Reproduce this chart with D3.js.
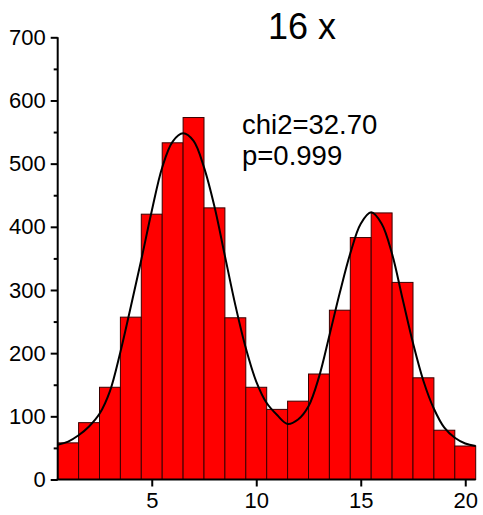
<!DOCTYPE html>
<html>
<head>
<meta charset="utf-8">
<script src="https://cdn.jsdelivr.net/npm/d3@7"></script>
<style>
  html, body { margin: 0; padding: 0; background: #fff; }
  svg { display: block; font-family: Arial, "Liberation Sans", sans-serif; }
</style>
</head>
<body>
<svg id="chart" width="483" height="515"></svg>
<script>
// ---- data ----
const binCenters = [1, 2, 3, 4, 5, 6, 7, 8, 9, 10, 11, 12, 13, 14, 15, 16, 17, 18, 19, 20];
const binCounts  = [58, 90, 146, 257, 420, 533, 573, 430, 256, 146, 111, 124, 167, 268, 383, 422, 312, 161, 78, 53];
const fitX = [0.5, 1, 1.5, 2, 2.5, 3, 3.5, 4, 4.5, 5, 5.5, 6, 6.5, 7, 7.5, 8, 8.5, 9, 9.5, 10,
              10.5, 11, 11.5, 12, 12.5, 13, 13.5, 14, 14.5, 15, 15.5, 16, 16.5, 17, 17.5, 18, 18.5, 19, 19.5, 20, 20.5];
const fitY = [55, 60, 70, 84, 104, 140, 202, 274, 348, 425, 494, 535, 548, 536, 494, 432, 354, 276, 208, 155,
              121, 102, 88, 95, 116, 162, 228, 296, 358, 405, 423, 405, 357, 286, 216, 156, 112, 82, 66, 57, 53];
const xTicks = [5, 10, 15, 20];
const yTicks = [0, 100, 200, 300, 400, 500, 600, 700];
const yMinorTicks = [50, 150, 250, 350, 450, 550, 650];
const titleText = "16 x";
const statLines = ["chi2=32.70", "p=0.999"];

// ---- layout ----
const svg = d3.select("#chart");
const plotLeft = 57.7, plotRight = 475.7, plotTop = 37.3, plotBottom = 479.5;

const x = d3.scaleLinear().domain([0.5, 20.5]).range([plotLeft, plotRight]);
const y = d3.scaleLinear().domain([0, 700]).range([plotBottom, plotTop]);

// bars
svg.append("g").selectAll("rect")
  .data(binCenters.map((c, i) => ({c, v: binCounts[i]})))
  .join("rect")
  .attr("x", d => x(d.c - 0.5))
  .attr("width", d => x(d.c + 0.5) - x(d.c - 0.5))
  .attr("y", d => y(d.v))
  .attr("height", d => y(0) - y(d.v))
  .attr("fill", "#ff0000")
  .attr("stroke", "#3a0000")
  .attr("stroke-width", 1);

// fit curve
const line = d3.line()
  .x(d => x(d[0]))
  .y(d => y(d[1]))
  .curve(d3.curveCatmullRom.alpha(0.5));
svg.append("path")
  .datum(fitX.map((v, i) => [v, fitY[i]]))
  .attr("d", line)
  .attr("fill", "none")
  .attr("stroke", "#000")
  .attr("stroke-width", 2);

const tickFont = "Arial, 'Liberation Sans', sans-serif";

// y axis
const yAxis = d3.axisLeft(y).tickValues(yTicks).tickSize(7).tickPadding(5).tickFormat(d3.format("d"));
const gy = svg.append("g").attr("transform", `translate(${plotLeft},0)`).call(yAxis);
gy.select(".domain").attr("stroke-width", 2).attr("d", `M0,${plotBottom}V${plotTop}`);
gy.selectAll(".tick line").attr("stroke-width", 2);
gy.selectAll(".tick text").attr("font-size", 22).attr("font-family", tickFont).attr("fill", "#000");
const yMinor = d3.axisLeft(y).tickValues(yMinorTicks).tickSize(4).tickFormat("");
const gym = svg.append("g").attr("transform", `translate(${plotLeft},0)`).call(yMinor);
gym.select(".domain").remove();
gym.selectAll(".tick line").attr("stroke-width", 2);

// x axis
const xAxis = d3.axisBottom(x).tickValues(xTicks).tickSize(7).tickPadding(6).tickFormat(d3.format("d"));
const gx = svg.append("g").attr("transform", `translate(0,${plotBottom})`).call(xAxis);
gx.select(".domain").attr("stroke-width", 2).attr("d", `M${plotLeft - 1},0H${plotRight}`);
gx.selectAll(".tick line").attr("stroke-width", 2);
gx.selectAll(".tick text").attr("font-size", 22).attr("font-family", tickFont).attr("fill", "#000");

// title
svg.append("text")
  .attr("x", 268).attr("y", 39)
  .attr("font-size", 36)
  .attr("fill", "#000")
  .text(titleText);

// stats text
svg.append("g").selectAll("text")
  .data(statLines)
  .join("text")
  .attr("x", 242)
  .attr("y", (d, i) => 134 + i * 31)
  .attr("font-size", 27.5)
  .attr("fill", "#000")
  .text(d => d);
</script>
</body>
</html>
